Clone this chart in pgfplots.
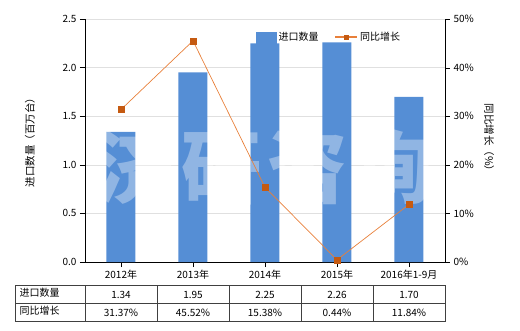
\documentclass[border=0pt]{standalone}
\usepackage{fontspec}
\setmainfont{Noto Sans CJK SC}
\usepackage{pgfplots}
\pgfplotsset{compat=1.18}
\definecolor{barblue}{HTML}{558ED5}
\definecolor{lineorange}{HTML}{E8803A}
\definecolor{markorange}{HTML}{C55A11}
\begin{document}
\begin{tikzpicture}
\path[use as bounding box] (0pt,0pt) rectangle (520pt,330pt);
\begin{axis}[at={(85pt,68pt)}, anchor=south west, scale only axis,
  width=360pt, height=243pt,
  xmin=-0.5, xmax=4.5, ymin=0, ymax=2.5,
  axis y line*=left, axis x line*=bottom, axis line style={black,-},
  ytick={0,0.5,1,1.5,2,2.5}, ymajorgrids, grid style={black!12},
  xtick={0,1,2,3,4}, xticklabels={2012年,2013年,2014年,2015年,2016年1-9月},
  tick align=outside, major tick length=5pt, tick style={black},
  font=\fontsize{10}{12}\selectfont,
  /pgf/number format/assume math mode=true,
  yticklabel style={/pgf/number format/.cd, fixed, fixed zerofill, precision=1},
  clip=false]
\addplot[ybar, bar width=29pt, fill=barblue, draw=none] coordinates {(0,1.34)(1,1.95)(2,2.25)(3,2.26)(4,1.70)};
\node[font=\fontsize{80}{80}\selectfont\bfseries, white, opacity=0.35] at (rel axis cs:0.5,0.39) {济\hspace{6pt}研\hspace{6pt}咨\hspace{6pt}询};
\end{axis}
\begin{axis}[at={(85pt,68pt)}, anchor=south west, scale only axis,
  width=360pt, height=243pt,
  xmin=-0.5, xmax=4.5, ymin=0, ymax=50,
  axis y line*=right, axis x line=none, axis line style={black,-},
  ytick={0,10,20,30,40,50}, yticklabel={\pgfmathprintnumber{\tick}\%},
  tick align=outside, major tick length=5pt, tick style={black},
  font=\fontsize{10}{12}\selectfont,
  /pgf/number format/assume math mode=true,
  legend columns=2,
  legend style={at={(0.475,0.925)}, anchor=west, draw=none, fill=none, inner sep=0pt,
    font=\fontsize{10}{12}\selectfont,
    /tikz/every even column/.append style={column sep=14pt}},
  clip=false]
\addlegendimage{legend image code/.code={\fill[barblue] (0pt,-5.5pt) rectangle (20pt,5.5pt);}}
\addlegendentry{进口数量}
\addplot[lineorange, line width=0.7pt, mark=square*, mark options={fill=markorange, draw=markorange, line width=0.3pt}, mark size=3pt,
  legend image code/.code={\draw[lineorange, line width=1.5pt] (0pt,0pt) -- (22pt,0pt); \fill[markorange] (9pt,-2pt) rectangle (13pt,2pt);}]
  coordinates {(0,31.37)(1,45.52)(2,15.38)(3,0.44)(4,11.84)};
\addlegendentry{同比增长}
\end{axis}
\node[rotate=90, font=\fontsize{10.5}{12}\selectfont] at (30pt,190pt) {进口数量（百万台）};
\node[rotate=-90, font=\fontsize{10.5}{12}\selectfont] at (489pt,190pt) {同比增长（\%）};
\draw[black!75, line width=0.8pt] (15pt,9pt) rectangle (445pt,45pt);
\draw[black!75, line width=0.8pt] (15pt,27pt) -- (445pt,27pt);
\foreach \x in {85,157,229,301,373} {\draw[black!75, line width=0.8pt] (\x pt,9pt) -- (\x pt,45pt);}
\node[anchor=west, font=\fontsize{10}{12}\selectfont] at (16pt,37pt) {进口数量};
\node[anchor=west, font=\fontsize{10}{12}\selectfont] at (16pt,19pt) {同比增长};
\foreach \v [count=\i from 0] in {1.34,1.95,2.25,2.26,1.70} {\node[font=\fontsize{10}{12}\selectfont] at (121pt+\i*72pt,35pt) {\v};}
\foreach \v [count=\i from 0] in {31.37,45.52,15.38,0.44,11.84} {\node[font=\fontsize{10}{12}\selectfont] at (121pt+\i*72pt,17pt) {\v\%};}
\end{tikzpicture}
\end{document}
